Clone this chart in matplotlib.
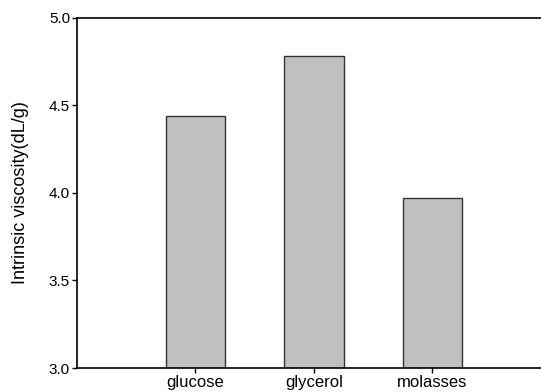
import numpy as np
import matplotlib.pyplot as plt
import matplotlib as mpl

mpl.rcParams['font.family'] = ['Liberation Sans', 'DejaVu Sans']

categories = ['glucose', 'glycerol', 'molasses']
viscosity = [4.44, 4.78, 3.97]

fig = plt.figure(figsize=(5.41, 3.92), dpi=100)
ax = fig.add_axes([0.1423, 0.0612, 0.876, 0.893])

x = np.arange(1, len(categories) + 1)
ax.bar(x, viscosity, width=0.5, color='#c0c0c0', edgecolor='#333333', linewidth=1.0)

ax.set_xlim(0, 4)
ax.set_ylim(3.0, 5.0)
ax.set_xticks(x)
ax.set_xticklabels(categories, fontsize=12)
ax.set_yticks([3.0, 3.5, 4.0, 4.5, 5.0])
ax.set_yticklabels(['3.0', '3.5', '4.0', '4.5', '5.0'], fontsize=11)
ax.tick_params(axis='both', direction='out', length=3.5, width=1, pad=1.5)
ax.set_ylabel('Intrinsic viscosity(dL/g)', fontsize=13, labelpad=14)

for s in ax.spines.values():
    s.set_linewidth(1.2)

fig.savefig('out.png', dpi=100)
